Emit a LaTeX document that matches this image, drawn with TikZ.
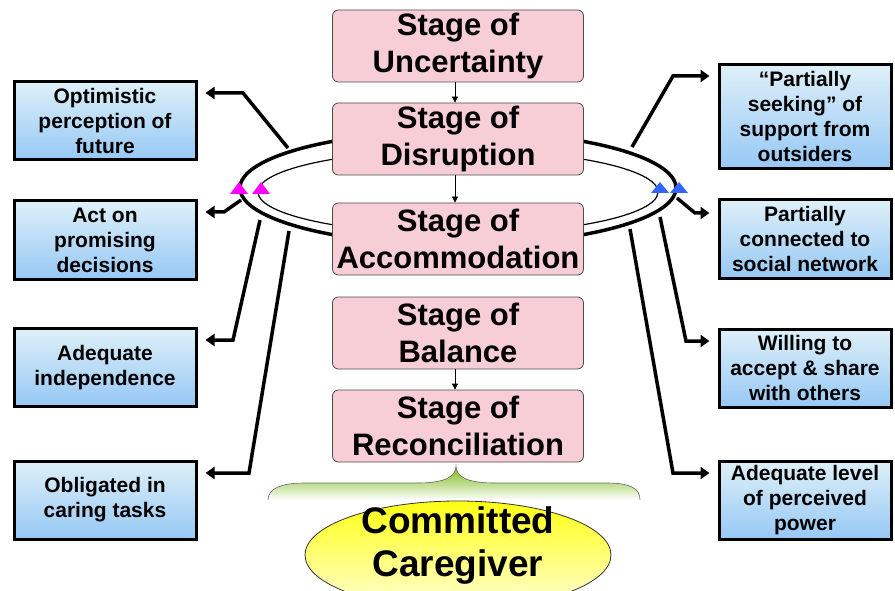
\documentclass[tikz,border=0pt]{standalone}
\usepackage{fontspec}
\setmainfont{Liberation Sans}
\usepackage{tikz}
\usetikzlibrary{positioning,arrows.meta,shapes.geometric,calc}
\definecolor{stagepink}{RGB}{247,205,214}
\definecolor{boxblue}{RGB}{150,200,245}
\definecolor{boxlight}{RGB}{222,240,248}
\definecolor{bracegreen}{RGB}{120,185,20}
\definecolor{goalyellow}{RGB}{255,255,20}
\definecolor{goallight}{RGB}{255,255,215}
\definecolor{tripink}{RGB}{255,0,255}
\definecolor{triblue}{RGB}{50,100,255}

\begin{document}
\begin{tikzpicture}[
x=1pt, y=-1pt,
    stagebox/.style={
        draw=black!70,
        fill=stagepink,
        rounded corners=6pt,
        line width=0.8pt,
        minimum width=251pt,
        minimum height=72pt,
        inner sep=0pt,
        align=center,
        font=\bfseries\fontsize{31}{37}\selectfont
    },
    traitbox/.style={
        draw=black,
        line width=3pt,
        top color=boxlight,
        bottom color=boxblue,
        minimum height=78pt,
        inner sep=0pt,
        align=center,
        font=\bfseries\fontsize{21}{25}\selectfont
    },
    linkline/.style={
        line width=3.5pt,
        -{Triangle[length=9pt,width=12pt]},
        shorten >=8pt
    },
    stepline/.style={
        line width=0.8pt,
        -{Triangle[length=6pt,width=6pt]}
    }
]
\useasboundingbox (0,0) rectangle (895,591);

% Traits on the left and on the right
\node[traitbox, minimum width=182pt] (opt) at (105,121)   {Optimistic\\perception of\\future};
\node[traitbox, minimum width=182pt] (act) at (105,240)   {Act on\\promising\\decisions};
\node[traitbox, minimum width=182pt] (ind) at (105,367.5) {Adequate\\independence};
\node[traitbox, minimum width=182pt] (obl) at (105,500)   {Obligated in\\caring tasks};
\node[traitbox, minimum width=172pt, minimum height=104pt] (seek) at (805,116.5) {“Partially\\seeking” of\\support from\\outsiders};
\node[traitbox, minimum width=172pt] (conn)  at (805,239)   {Partially\\connected to\\social network};
\node[traitbox, minimum width=172pt] (will)  at (805,368)   {Willing to\\accept \& share\\with others};
\node[traitbox, minimum width=172pt] (power) at (805,500)   {Adequate level\\of perceived\\power};

% Where the connectors leave the ring
\coordinate (l1) at (288,148);  \coordinate (k1) at (243,93);
\coordinate (l2) at (241,200);  \coordinate (k2) at (224,212);
\coordinate (l3) at (260,220);  \coordinate (k3) at (233,340);
\coordinate (l4) at (289,231);  \coordinate (k4) at (249,473);
\coordinate (r1) at (632,147);  \coordinate (m1) at (673,76);
\coordinate (r2) at (677,198);  \coordinate (m2) at (695,213);
\coordinate (r3) at (660,217);  \coordinate (m3) at (686,341);
\coordinate (r4) at (630,229);  \coordinate (m4) at (673,473);

\draw[linkline] (l1) -- (k1) -- (k1 -| opt.east);
\draw[linkline] (l2) -- (k2) -- (k2 -| act.east);
\draw[linkline] (l3) -- (k3) -- (k3 -| ind.east);
\draw[linkline] (l4) -- (k4) -- (k4 -| obl.east);
\draw[linkline] (r1) -- (m1) -- (m1 -| seek.west);
\draw[linkline] (r2) -- (m2) -- (m2 -| conn.west);
\draw[linkline] (r3) -- (m3) -- (m3 -| will.west);
\draw[linkline] (r4) -- (m4) -- (m4 -| power.west);

% The ring round the two stages
\draw[line width=3.5pt, fill=white] (458,188) ellipse [x radius=218pt, y radius=57pt];
\draw[line width=1.2pt] (458,192) ellipse [x radius=200pt, y radius=42pt];

% Small marks on the ring
\fill[tripink] (230,194) -- (248,194) -- (239,182) -- cycle;
\fill[tripink] (252,194) -- (270,194) -- (261,182) -- cycle;
\fill[triblue] (651,193) -- (669,193) -- (660,182) -- cycle;
\fill[triblue] (670,193) -- (688,193) -- (679,182) -- cycle;

% The five stages
\node[stagebox] (unc) at (458,46)  {Stage of\\Uncertainty};
\node[stagebox] (dis) at (458,139) {Stage of\\Disruption};
\node[stagebox] (acc) at (458,239) {Stage of\\Accommodation};
\node[stagebox] (bal) at (458,333) {Stage of\\Balance};
\node[stagebox] (rec) at (458,426) {Stage of\\Reconciliation};

\draw[stepline] ([xshift=-3pt]unc.south) -- ([xshift=-3pt]dis.north);
\draw[stepline] ([xshift=-3pt]dis.south) -- ([xshift=-3pt]acc.north);
\draw[stepline] ([xshift=-3pt]bal.south) -- ([xshift=-3pt]rec.north);

% Brace and outcome
\shade[top color=bracegreen, middle color=bracegreen!80, bottom color=white] (268,500) .. controls (268,488) and (282,483) .. (305,483) -- (418,483) .. controls (446,483) and (456,476) .. (456,466) .. controls (456,476) and (466,483) .. (494,483) -- (606,483) .. controls (630,483) and (640,488) .. (640,500) -- cycle;
\draw[black!60, line width=0.6pt] (268,500) .. controls (268,488) and (282,483) .. (305,483) -- (418,483) .. controls (446,483) and (456,476) .. (456,466) .. controls (456,476) and (466,483) .. (494,483) -- (606,483) .. controls (630,483) and (640,488) .. (640,500);

\node[ellipse, draw=black!80, line width=0.8pt, top color=goalyellow, bottom color=goallight,
      minimum width=306pt, minimum height=108pt] (goal) at (458,555) {};
\node[align=center, inner sep=0pt, font=\bfseries\fontsize{37}{43}\selectfont] (goaltext) at (458,546) {Committed\\Caregiver};
\end{tikzpicture}
\end{document}
